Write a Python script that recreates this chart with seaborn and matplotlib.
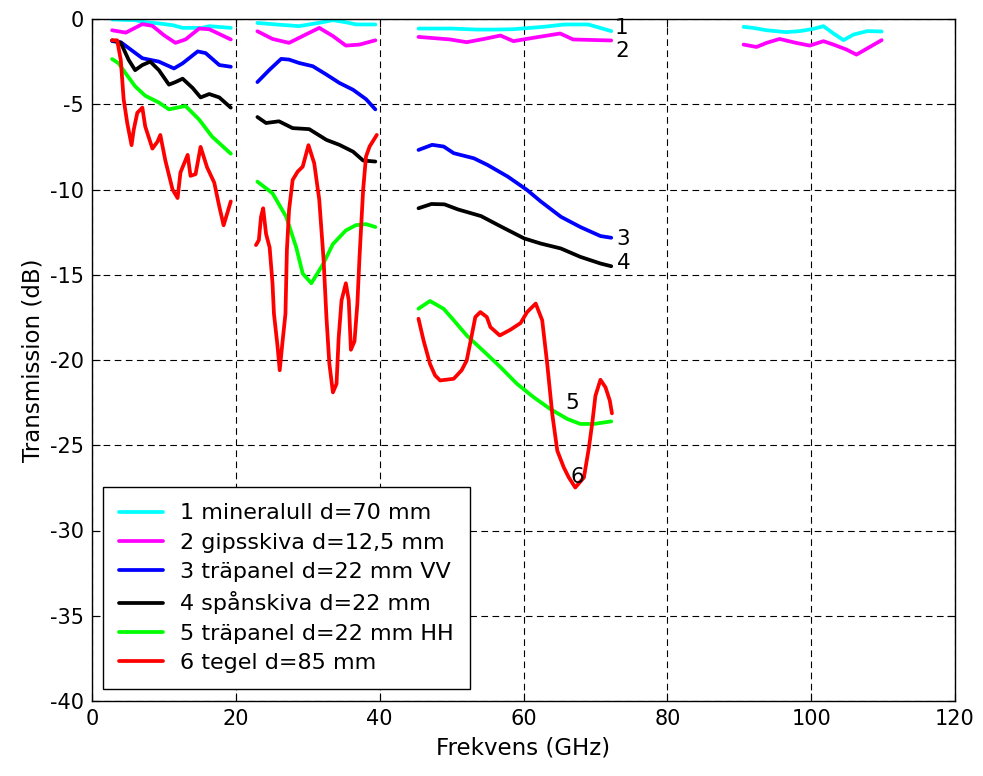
import numpy as np
import pandas as pd
import matplotlib
matplotlib.use("Agg")
import matplotlib.pyplot as plt
from matplotlib.lines import Line2D
import seaborn as sns

# ---------------- data ----------------
materials = ["1 mineralull d=70 mm", "2 gipsskiva d=12,5 mm", "3 träpanel d=22 mm VV",
             "4 spånskiva d=22 mm", "5 träpanel d=22 mm HH", "6 tegel d=85 mm"]
colors = ["#00ffff", "#ff00ff", "#0000ff", "#000000", "#00ff00", "#ff0000"]
curve_labels = ["1", "2", "3", "4", "5", "6"]
label_x = [73.6, 73.7, 73.9, 73.9, 66.8, 67.5]
label_y = [-0.5, -1.9, -12.9, -14.3, -22.5, -26.85]

# 1 mineralull
f1_a = [2.8, 6.0, 7.4, 9.3, 11.2, 12.6, 15.3, 16.3, 19.3]
db1_a = [-0.03, -0.07, -0.19, -0.26, -0.36, -0.52, -0.52, -0.42, -0.52]
f1_b = [23.0, 25.6, 28.8, 31.6, 33.5, 35.3, 36.7, 39.4]
db1_b = [-0.23, -0.32, -0.42, -0.22, -0.07, -0.19, -0.32, -0.32]
f1_c = [45.4, 50.0, 53.5, 56.0, 58.5, 61.0, 63.0, 65.7, 69.0, 72.2]
db1_c = [-0.56, -0.56, -0.62, -0.62, -0.6, -0.52, -0.45, -0.32, -0.32, -0.71]
f1_d = [90.6, 91.9, 93.8, 96.5, 98.4, 100.3, 101.7, 103.1, 104.5, 105.9, 107.8, 109.8]
db1_d = [-0.46, -0.52, -0.66, -0.77, -0.71, -0.58, -0.42, -0.85, -1.24, -0.91, -0.71, -0.73]

# 2 gipsskiva
f2_a = [2.8, 4.7, 7.0, 8.4, 10.0, 11.6, 13.0, 14.9, 16.3, 19.3]
db2_a = [-0.66, -0.8, -0.3, -0.4, -0.95, -1.4, -1.2, -0.56, -0.6, -1.2]
f2_b = [23.0, 25.1, 27.4, 29.3, 31.6, 33.5, 35.3, 37.2, 39.4]
db2_b = [-0.72, -1.17, -1.4, -1.0, -0.52, -1.0, -1.56, -1.5, -1.25]
f2_c = [45.4, 49.8, 52.1, 54.5, 56.8, 58.6, 61.4, 65.1, 66.9, 72.2]
db2_c = [-1.05, -1.2, -1.36, -1.17, -0.97, -1.3, -1.1, -0.85, -1.2, -1.26]
f2_d = [90.6, 92.4, 93.8, 95.6, 97.9, 99.8, 101.7, 103.1, 104.9, 106.3, 107.7, 109.8]
db2_d = [-1.5, -1.64, -1.4, -1.17, -1.4, -1.56, -1.3, -1.5, -1.79, -2.09, -1.75, -1.24]

# 3 träpanel VV
f3_a = [2.8, 4.0, 7.0, 9.3, 11.4, 12.6, 14.7, 15.8, 17.7, 19.3]
db3_a = [-1.3, -1.36, -2.3, -2.5, -2.9, -2.6, -1.9, -2.0, -2.7, -2.8]
f3_b = [23.0, 24.7, 26.3, 27.4, 28.8, 30.7, 32.6, 34.4, 36.3, 38.1, 39.4]
db3_b = [-3.7, -2.97, -2.34, -2.38, -2.58, -2.77, -3.26, -3.75, -4.15, -4.7, -5.3]
f3_c = [45.4, 47.3, 48.9, 50.3, 53.1, 55.0, 57.8, 60.5, 62.4, 65.2, 67.9, 70.7, 72.2]
db3_c = [-7.68, -7.38, -7.48, -7.87, -8.17, -8.56, -9.24, -10.03, -10.7, -11.6, -12.2, -12.73, -12.83]

# 4 spånskiva
f4_a = [2.8, 4.0, 5.1, 6.0, 7.0, 8.1, 9.3, 10.7, 11.6, 12.6, 14.0, 15.1, 16.3, 17.7, 19.3]
db4_a = [-1.25, -1.4, -2.4, -3.0, -2.7, -2.5, -3.0, -3.85, -3.7, -3.5, -4.05, -4.6, -4.4, -4.6, -5.2]
f4_b = [23.0, 24.2, 26.0, 27.9, 30.2, 32.6, 34.4, 36.3, 37.7, 39.4]
db4_b = [-5.75, -6.1, -6.0, -6.4, -6.46, -7.09, -7.38, -7.78, -8.3, -8.36]
f4_c = [45.4, 47.2, 49.0, 50.9, 54.1, 56.9, 60.1, 62.4, 65.2, 67.9, 70.7, 72.2]
db4_c = [-11.1, -10.85, -10.87, -11.17, -11.56, -12.18, -12.87, -13.17, -13.46, -13.95, -14.34, -14.5]

# 5 träpanel HH
f5_a = [2.8, 3.7, 4.7, 6.0, 7.4, 9.3, 10.7, 13.0, 14.9, 16.7, 19.3]
db5_a = [-2.35, -2.6, -3.2, -3.95, -4.5, -4.9, -5.3, -5.1, -5.9, -6.9, -7.9]
f5_b = [23.0, 25.1, 27.0, 28.4, 29.3, 30.5, 32.1, 33.5, 35.3, 36.7, 38.1, 39.4]
db5_b = [-9.54, -10.22, -11.6, -13.4, -14.93, -15.5, -14.4, -13.2, -12.4, -12.09, -12.03, -12.2]
f5_c = [45.4, 47.0, 48.9, 50.3, 52.1, 54.5, 56.8, 59.1, 61.4, 63.7, 66.1, 67.9, 69.8, 72.2]
db5_c = [-16.99, -16.54, -17.0, -17.67, -18.56, -19.5, -20.42, -21.4, -22.18, -22.87, -23.46, -23.75, -23.75, -23.6]

# 6 tegel
f6_a = [2.8, 3.5, 4.0, 4.4, 4.9, 5.5, 5.8, 6.3, 7.0, 7.4, 8.4, 9.1, 9.5, 10.2, 11.2, 11.9,
        12.3, 13.3, 13.7, 14.4, 15.1, 16.0, 17.0, 17.7, 18.3, 18.8, 19.3]
db6_a = [-1.25, -1.25, -2.4, -4.7, -6.1, -7.4, -6.5, -5.5, -5.2, -6.3, -7.6, -7.2, -6.8, -8.3,
         -10.0, -10.5, -9.0, -7.97, -9.2, -9.1, -7.5, -8.7, -9.6, -11.0, -12.1, -11.4, -10.7]
f6_b = [22.8, 23.2, 23.5, 23.8, 24.2, 24.7, 25.1, 25.3, 25.8, 26.1, 26.5, 26.9, 27.1, 27.4,
        27.9, 28.6, 29.3, 30.1, 30.9, 31.6, 32.2, 32.6, 33.0, 33.5, 34.0, 34.3, 34.7, 35.3,
        35.7, 36.0, 36.5, 36.9, 37.2, 37.7, 38.1, 38.6, 39.6]
db6_b = [-13.26, -12.97, -11.6, -11.1, -12.6, -13.4, -15.5, -17.29, -19.2, -20.6, -18.9, -17.29,
         -13.56, -11.2, -9.44, -8.95, -8.66, -7.4, -8.46, -10.6, -14.1, -17.5, -20.2, -21.9,
         -21.4, -18.7, -16.5, -15.5, -16.5, -19.4, -18.9, -16.7, -13.95, -10.03, -8.07, -7.48, -6.8]
f6_c = [45.4, 46.1, 47.0, 47.7, 48.4, 50.3, 51.4, 52.1, 52.8, 53.3, 54.0, 54.9, 55.4, 56.7,
        58.2, 59.6, 60.5, 61.7, 62.6, 63.3, 64.0, 64.7, 65.6, 66.3, 67.2, 68.4, 69.1, 69.6,
        70.0, 70.7, 71.4, 72.0, 72.3]
db6_c = [-17.58, -18.85, -20.23, -20.9, -21.2, -21.1, -20.6, -20.03, -18.56, -17.48, -17.19,
         -17.48, -18.07, -18.56, -18.22, -17.83, -17.19, -16.69, -17.67, -20.23, -23.17, -25.32,
         -26.3, -26.89, -27.48, -26.89, -25.13, -23.56, -22.1, -21.16, -21.6, -22.38, -23.13]

x_ticks = [0, 20, 40, 60, 80, 100, 120]
y_ticks = [-40, -35, -30, -25, -20, -15, -10, -5, 0]
x_label = "Frekvens (GHz)"
y_label = "Transmission (dB)"

# ---------------- build long-form table ----------------
segments = [
    (0, "a", f1_a, db1_a), (0, "b", f1_b, db1_b), (0, "c", f1_c, db1_c), (0, "d", f1_d, db1_d),
    (1, "a", f2_a, db2_a), (1, "b", f2_b, db2_b), (1, "c", f2_c, db2_c), (1, "d", f2_d, db2_d),
    (2, "a", f3_a, db3_a), (2, "b", f3_b, db3_b), (2, "c", f3_c, db3_c),
    (3, "a", f4_a, db4_a), (3, "b", f4_b, db4_b), (3, "c", f4_c, db4_c),
    (4, "a", f5_a, db5_a), (4, "b", f5_b, db5_b), (4, "c", f5_c, db5_c),
    (5, "a", f6_a, db6_a), (5, "b", f6_b, db6_b), (5, "c", f6_c, db6_c),
]
rows = []
for mi, seg, fs, ds in segments:
    for i, (f, d) in enumerate(zip(fs, ds)):
        rows.append({"freq": f, "db": d, "material": materials[mi],
                     "unit": f"{mi}{seg}", "order": i})
df = pd.DataFrame(rows)

# ---------------- plot ----------------
sns.set_style("white")
plt.rcParams["font.family"] = ["DejaVu Sans"]
plt.rcParams["font.size"] = 15
plt.rcParams["text.color"] = "black"
plt.rcParams["axes.labelcolor"] = "black"

fig = plt.figure(figsize=(9.83, 7.76), dpi=100)
ax = fig.add_axes([92 / 983, 1 - 701 / 776, 863 / 983, 682 / 776])

palette = dict(zip(materials, colors))
sns.lineplot(data=df, x="freq", y="db", hue="material", units="unit", estimator=None,
             sort=False, palette=palette, hue_order=materials, linewidth=2.7,
             legend=False, ax=ax)

ax.set_xlim(0, 120)
ax.set_ylim(-40, 0)
ax.set_xticks(x_ticks)
ax.set_yticks(y_ticks)
ax.set_xticklabels([str(t) for t in x_ticks], fontsize=15)
ax.set_yticklabels([str(t) for t in y_ticks], fontsize=15)
ax.tick_params(direction="in", length=6, width=0.8, top=True, right=True,
               bottom=True, left=True, colors="black", pad=6)
ax.grid(True, color="black", linestyle=(0, (6, 4)), linewidth=0.8)
for sp in ax.spines.values():
    sp.set_color("black")
    sp.set_linewidth(1.0)
ax.set_xlabel(x_label, fontsize=16.5, labelpad=5, color="black")
ax.set_ylabel(y_label, fontsize=16.5, labelpad=4, color="black")

for lab, lx, ly in zip(curve_labels, label_x, label_y):
    ax.text(lx, ly, lab, fontsize=15.5, ha="center", va="center", color="black")

handles = [Line2D([0], [0], color=c, linewidth=2.7) for c in colors]
leg = ax.legend(handles, materials, loc="lower left",
                bbox_to_anchor=(11 / 863, 12 / 682), borderaxespad=0,
                fontsize=16, frameon=True, fancybox=False, framealpha=1,
                edgecolor="black", handlelength=2.0, handletextpad=0.75,
                labelspacing=0.42, borderpad=0.72)
leg.get_frame().set_linewidth(1.0)
for t in leg.get_texts():
    t.set_color("black")

fig.savefig("out.png", dpi=100)
